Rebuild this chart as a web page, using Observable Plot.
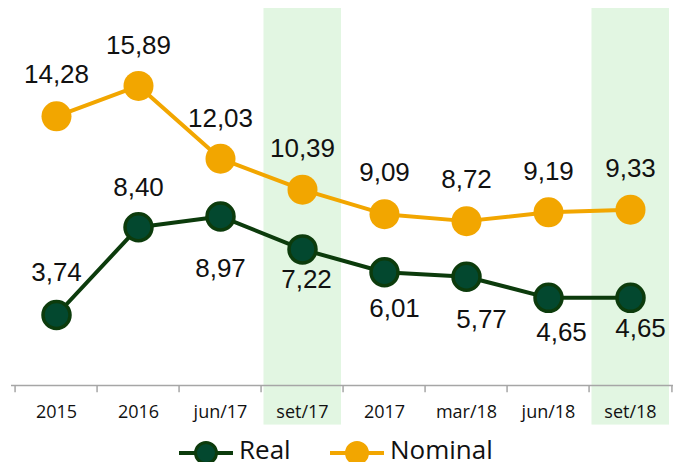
<!DOCTYPE html>
<html>
<head>
<meta charset="utf-8">
<script src="https://cdn.jsdelivr.net/npm/d3@7"></script>
<script src="https://cdn.jsdelivr.net/npm/@observablehq/plot@0.6"></script>
<style>
  html, body { margin: 0; padding: 0; background: #fff; }
  #wrap { position: relative; width: 673px; height: 467px; overflow: hidden; }
  #legend { position: absolute; left: 0; top: 436px; width: 673px; height: 26px; }
  #legend .item { position: absolute; top: 0; height: 26px; display: flex; align-items: center; font-family: "Open Sans", sans-serif; font-size: 26px; color: #111; line-height: 26px; }
</style>
</head>
<body>
<div id="wrap">
  <div id="chart"></div>
  <div id="legend"></div>
</div>
<script>
// ---- data ----
const categories = ["2015", "2016", "jun/17", "set/17", "2017", "mar/18", "jun/18", "set/18"];
const realValues = [3.74, 8.40, 8.97, 7.22, 6.01, 5.77, 4.65, 4.65];
const nominalValues = [14.28, 15.89, 12.03, 10.39, 9.09, 8.72, 9.19, 9.33];
const shadedCategories = ["set/17", "set/18"];
const seriesNames = ["Real", "Nominal"];

// label placement (pixels relative to point)
const realLabelDy = [-42, -39, 52, 30, 36, 43, 35, 31];
const realLabelDx = [0, 0, 0, 4, 10, 15, 13, 10];
const nominalLabelDy = [-42, -40, -40, -41, -41, -41, -41, -41];

const fmt = v => v.toFixed(2).replace(".", ",");

const orange = "#f2a600";
const greenLine = "#0c3b0c";
const greenFill = "#03482f";

const real = categories.map((c, i) => ({cat: c, value: realValues[i], i}));
const nominal = categories.map((c, i) => ({cat: c, value: nominalValues[i], i}));

const xRange = [11, 674];
const bw = (xRange[1] - xRange[0]) / categories.length;

const labelFont = "'Liberation Sans', Arial, sans-serif";

const chart = Plot.plot({
  width: 673,
  height: 440,
  marginTop: 8,
  marginBottom: 55,
  marginLeft: 11,
  marginRight: 0,
  x: {type: "band", domain: categories, range: xRange, padding: 0},
  y: {domain: [0, 20], axis: null},
  style: {background: "transparent"},
  marks: [
    Plot.barY(shadedCategories, {x: d => d, y1: -2.1, y2: 20, fill: "#e2f6e2", insetLeft: 2.5, insetRight: 2}),
    Plot.ruleY([0], {stroke: "#a6a6a6", strokeWidth: 1.5}),
    Plot.ruleX(categories, {x: d => d, y1: 0, y2: -0.38, dx: -bw / 2, stroke: "#a6a6a6", strokeWidth: 1.5}),
    Plot.ruleX([categories[categories.length - 1]], {x: d => d, y1: 0, y2: -0.38, dx: bw / 2, stroke: "#a6a6a6", strokeWidth: 1.5}),
    Plot.axisX({tickSize: 0, tickPadding: 20, fontSize: 18, fontFamily: "'Open Sans', sans-serif", fill: "#111", label: null}),
    Plot.line(nominal, {x: "cat", y: "value", stroke: orange, strokeWidth: 4}),
    Plot.line(real, {x: "cat", y: "value", stroke: greenLine, strokeWidth: 4}),
    Plot.dot(nominal, {x: "cat", y: "value", r: 15, fill: orange}),
    Plot.dot(real, {x: "cat", y: "value", r: 13.5, fill: greenFill, stroke: greenLine, strokeWidth: 3.5}),
    ...nominal.map(d => Plot.text([d], {x: "cat", y: "value", text: d => fmt(d.value), dy: nominalLabelDy[d.i], fontSize: 26, fontFamily: labelFont, fill: "#111"})),
    ...real.map(d => Plot.text([d], {x: "cat", y: "value", text: d => fmt(d.value), dy: realLabelDy[d.i], dx: realLabelDx[d.i], fontSize: 26, fontFamily: labelFont, fill: "#111"}))
  ]
});
document.getElementById("chart").appendChild(chart);

// legend
const legend = document.getElementById("legend");
const legendItems = [
  {name: seriesNames[0], left: 178, line: greenLine, fill: greenFill, stroke: greenLine},
  {name: seriesNames[1], left: 329, line: orange, fill: orange, stroke: orange}
];
for (const it of legendItems) {
  const div = document.createElement("div");
  div.className = "item";
  div.style.left = it.left + "px";
  div.innerHTML = `<svg width="56" height="26" style="margin-right:5px"><line x1="1" x2="55" y1="17" y2="17" stroke="${it.line}" stroke-width="4"/><circle cx="28" cy="17" r="10.5" fill="${it.fill}" stroke="${it.stroke}" stroke-width="3"/></svg><span>${it.name}</span>`;
  legend.appendChild(div);
}
</script>
</body>
</html>
